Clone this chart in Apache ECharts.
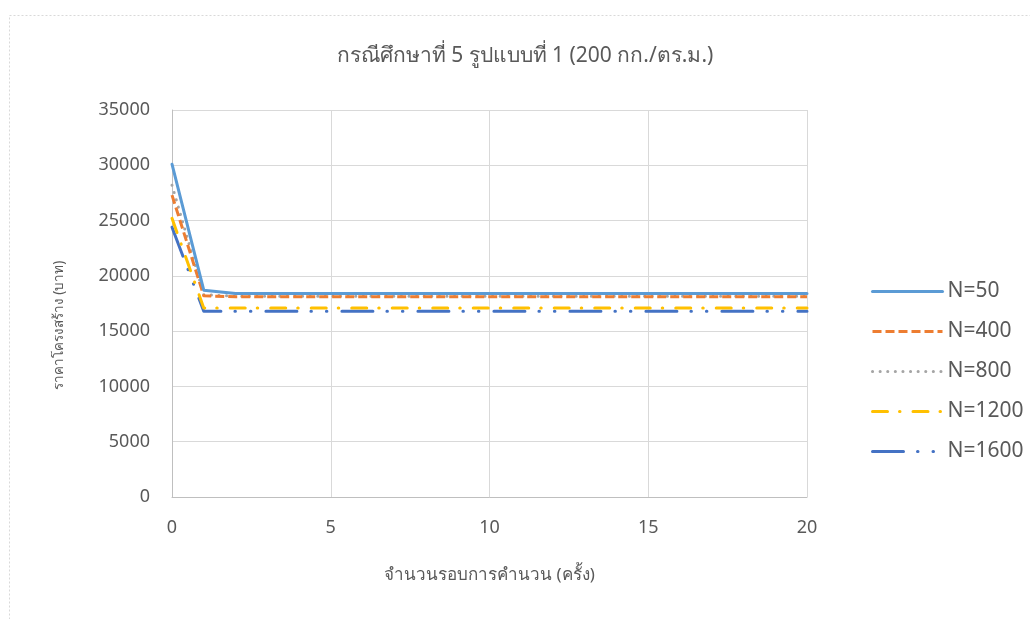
<!DOCTYPE html>
<html>
<head>
<meta charset="utf-8">
<script src="https://cdn.jsdelivr.net/npm/echarts@6/dist/echarts.min.js"></script>
<style>
  html, body { margin: 0; padding: 0; background: #ffffff; }
  #chart { width: 1030px; height: 619px; }
</style>
</head>
<body>
<div id="chart"></div>
<script>
// Iteration index (x) and construction cost per run size (บาท)
const iterations = [0,1,2,3,4,5,6,7,8,9,10,11,12,13,14,15,16,17,18,19,20];
const seriesNames = ['N=50', 'N=400', 'N=800', 'N=1200', 'N=1600'];
const costN50   = [30100,18700,18400,18400,18400,18400,18400,18400,18400,18400,18400,18400,18400,18400,18400,18400,18400,18400,18400,18400,18400];
const costN400  = [27300,18200,18100,18100,18100,18100,18100,18100,18100,18100,18100,18100,18100,18100,18100,18100,18100,18100,18100,18100,18100];
const costN800  = [28200,18300,18150,18150,18150,18150,18150,18150,18150,18150,18150,18150,18150,18150,18150,18150,18150,18150,18150,18150,18150];
const costN1200 = [25200,17100,17100,17100,17100,17100,17100,17100,17100,17100,17100,17100,17100,17100,17100,17100,17100,17100,17100,17100,17100];
const costN1600 = [24400,16800,16800,16800,16800,16800,16800,16800,16800,16800,16800,16800,16800,16800,16800,16800,16800,16800,16800,16800,16800];

const valueSets = [costN50, costN400, costN800, costN1200, costN1600];
const colors = ['#5B9BD5', '#ED7D31', '#A5A5A5', '#FFC000', '#4472C4'];
const dashes = ['solid', [9, 4], [0.1, 7.5], [15, 12, 0.5, 13], [31, 14, 0.5, 15, 0.5, 15]];
const caps = ['round', 'butt', 'round', 'round', 'round'];

const FONT = "'Noto Sans', 'Open Sans', sans-serif";
const TEXT = '#595959';

const chart = echarts.init(document.getElementById('chart'), null, { renderer: 'canvas' });

const series = seriesNames.map((name, i) => ({
  name: name,
  type: 'line',
  data: iterations.map((x, k) => [x, valueSets[i][k]]),
  showSymbol: false,
  symbol: 'none',
  animation: false,
  lineStyle: { color: colors[i], width: 3, type: dashes[i], cap: caps[i], join: 'round' },
  itemStyle: { color: colors[i] },
  z: 10 - i
}));

chart.setOption({
  backgroundColor: '#ffffff',
  animation: false,
  title: {
    text: 'กรณีศึกษาที่ 5 รูปแบบที่ 1 (200 กก./ตร.ม.)',
    left: 520,
    top: 41,
    textAlign: 'center',
    textStyle: { fontFamily: FONT, fontSize: 21, fontWeight: 'normal', color: TEXT }
  },
  graphic: [{
    type: 'rect',
    shape: { x: 9.5, y: 15.5, width: 1100, height: 700 },
    style: { fill: 'none', stroke: '#d9d9d9', lineWidth: 1, lineDash: [2, 2] },
    silent: true
  }],
  legend: {
    orient: 'vertical',
    left: 866,
    top: 276,
    itemWidth: 70,
    itemHeight: 14,
    itemGap: 19,
    data: seriesNames,
    itemStyle: { opacity: 0 },
    lineStyle: { width: 3 },
    textStyle: { fontFamily: FONT, fontSize: 21, color: TEXT, padding: [0, 0, 0, 0] }
  },
  grid: { left: 172, right: 223, top: 110, bottom: 122, containLabel: false },
  xAxis: {
    type: 'value',
    min: 0, max: 20, interval: 5,
    name: 'จำนวนรอบการคำนวน (ครั้ง)',
    nameLocation: 'middle',
    nameGap: 70,
    nameMoveOverlap: false,
    nameTextStyle: { fontFamily: FONT, fontSize: 17, color: TEXT },
    axisLine: { show: true, lineStyle: { color: '#bfbfbf', width: 1 } },
    axisTick: { show: false },
    axisLabel: { fontFamily: FONT, fontSize: 18, color: TEXT, margin: 22 },
    splitLine: { show: true, lineStyle: { color: '#d9d9d9', width: 1 } }
  },
  yAxis: {
    type: 'value',
    min: 0, max: 35000, interval: 5000,
    name: 'ราคาโครงสร้าง (บาท)',
    nameLocation: 'middle',
    nameGap: 106,
    nameMoveOverlap: false,
    nameTextStyle: { fontFamily: FONT, fontSize: 13.5, color: TEXT, padding: [0, 44, 0, 0] },
    axisLine: { show: true, lineStyle: { color: '#bfbfbf', width: 1 } },
    axisTick: { show: false },
    axisLabel: { fontFamily: FONT, fontSize: 18, color: TEXT, margin: 22, formatter: v => String(v) },
    splitLine: { show: true, lineStyle: { color: '#d9d9d9', width: 1 } }
  },
  series: series
});
</script>
</body>
</html>
